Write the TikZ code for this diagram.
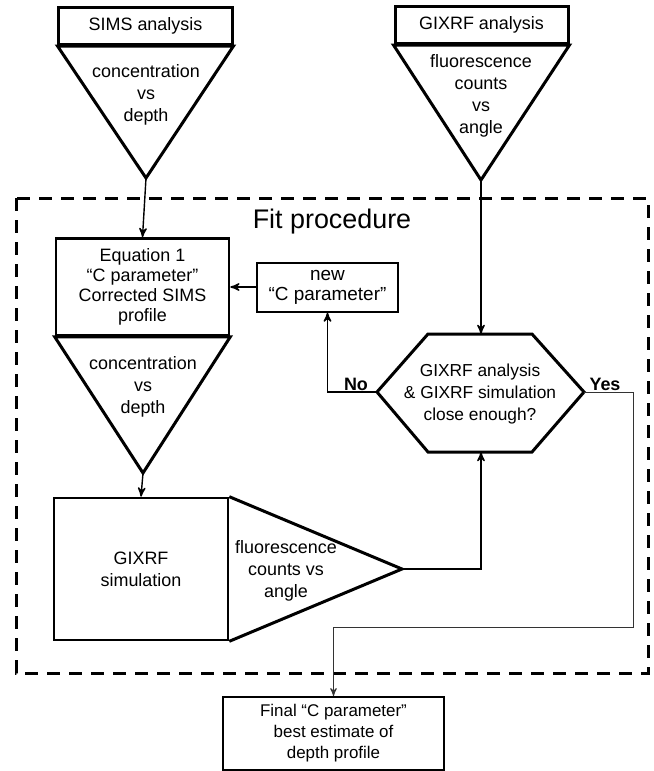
\documentclass[tikz,border=0pt]{standalone}
\usepackage{fontspec}
\setmainfont{Liberation Sans}
\usetikzlibrary{arrows}
\tikzset{
        >=stealth',
        headbox/.style = {draw, line width=1.5bp, minimum width=86.5bp, minimum height=18.5bp, inner sep=0pt, font=\fontsize{9}{11}\selectfont},
        stepbox/.style = {draw, line width=1.3bp, inner sep=0pt, align=center, font=\fontsize{9}{10}\selectfont},
        thinbox/.style = {draw, line width=1bp, inner sep=0pt, align=center},
        tri/.style = {line width=1.5bp},
        txt/.style = {align=center, inner sep=0pt, font=\fontsize{9}{11}\selectfont},
        conn/.style = {line width=0.7bp},
        lbl/.style = {font=\fontsize{9}{11}\selectfont\bfseries, inner sep=0pt}
}

\begin{document}
\begin{tikzpicture}[x=0.5bp,y=-0.5bp]
        \useasboundingbox (0,0) rectangle (654,771);

        % Measurements
        \node[headbox] (sims) at (145.5,26) {SIMS analysis};
        \node[headbox] (gixa) at (481.5,25) {GIXRF analysis};
        \coordinate (simstip) at (146,178);
        \coordinate (gixatip) at (481,180);
        \draw[tri] (sims.south west) -- (sims.south east) -- (simstip) -- cycle;
        \draw[tri] (gixa.south west) -- (gixa.south east) -- (gixatip) -- cycle;
        \node[txt] (simsdata) at (146,95) {concentration\\vs\\depth};
        \node[txt] (gixadata) at (481,95.5) {fluorescence\\counts\\vs\\angle};

        % Fit procedure
        \draw[line width=1.5bp, dash pattern=on 6.5bp off 4.5bp] (16,198) rectangle (648,673);
        \node[font=\fontsize{13.5}{16}\selectfont] (fit) at (332,222) {Fit procedure};

        \node[stepbox, minimum width=86.5bp, minimum height=48.5bp] (eqn) at (142.5,287) {Equation 1\\“C parameter”\\Corrected SIMS\\profile};
        \coordinate (eqtip) at (143,473);
        \draw[tri] (eqn.south west) -- (eqn.south east) -- (eqtip) -- cycle;
        \node[txt] (eqdata) at (143,387) {concentration\\vs\\depth};

        \node[thinbox, minimum width=70.5bp, minimum height=24.5bp, font=\fontsize{9.5}{10}\selectfont] (newc) at (327.5,287) {new\\“C parameter”};

        % Decision
        \coordinate (hexw) at (377,392);
        \coordinate (hexe) at (584,392);
        \coordinate (hexn) at (481,334);
        \coordinate (hexs) at (481,452);
        \draw[tri] (hexw) -- (428,334) -- (532,334) -- (hexe) -- (532,452) -- (428,452) -- cycle;
        \node[txt, font=\fontsize{8.7}{11}\selectfont] (hex) at (480,394) {GIXRF analysis\\\& GIXRF simulation\\close enough?};
        \node[lbl] (no) at (356,384) {No};
        \node[lbl] (yes) at (605,384) {Yes};

        % Simulation
        \node[stepbox, minimum width=87bp, minimum height=71bp, font=\fontsize{9}{11}\selectfont] (sim) at (141,569) {GIXRF\\simulation};
        \coordinate (simtip) at (402,569);
        \draw[tri] (sim.north east) -- (simtip) -- (sim.south east);
        \node[txt] (simdata) at (286,571) {fluorescence\\counts vs\\angle};

        % Result
        \node[thinbox, minimum width=110.5bp, minimum height=36.5bp, font=\fontsize{8.5}{10.5}\selectfont] (final) at (333.5,733.5) {Final “C parameter”\\best estimate of\\depth profile};

        % Connectors
        \draw[->,conn] (simstip) -- (eqn.north);
        \draw[->,conn] (gixatip) -- (hexn);
        \draw[->,conn] (newc.west) -- (eqn.east);
        \draw[->,conn] (hexw) -| (newc.south);
        \draw[->,conn] (eqtip) -- (sim.north);
        \draw[->,conn] (simtip) -| (hexs);
        \coordinate (yesturn) at (633,627);
        \draw[->,line width=0.5bp, black!80] (hexe) -| (yesturn) -| (final.north);

\end{tikzpicture}
\end{document}
